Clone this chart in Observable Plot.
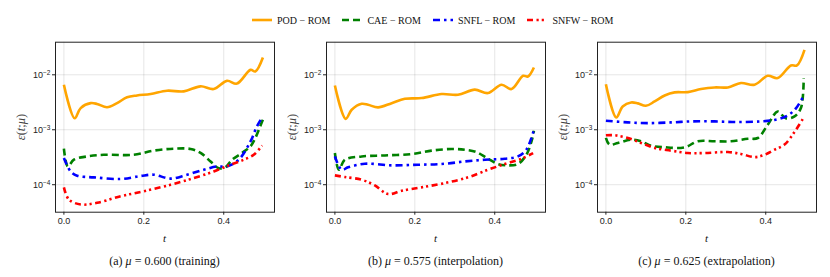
<!DOCTYPE html>
<html><head><meta charset="utf-8">
<script src="https://cdn.jsdelivr.net/npm/d3@7"></script>
<script src="https://cdn.jsdelivr.net/npm/@observablehq/plot@0.6"></script>
<style>
body{margin:0;background:#fff;}
#root{position:relative;width:830px;height:277px;overflow:hidden;font-family:"Liberation Serif",serif;color:#111;}
.panel{position:absolute;top:30px;}
.lbl{position:absolute;transform:translate(-50%,-50%);white-space:nowrap;}
#legend{position:absolute;left:252px;top:12px;display:flex;align-items:center;font-size:10px;height:16px;}
#legend .item{display:flex;align-items:center;margin-right:12px;}
#legend svg{margin-right:5px;}
</style></head><body><div id="root"><div id="legend"></div></div>
<script>
// ---- series metadata ----
const seriesNames = ["POD − ROM", "CAE − ROM", "SNFL − ROM", "SNFW − ROM"];
const seriesColors = ["#FFA500", "#008000", "#0000FF", "#FF0000"];
const seriesDash = [null, "7,4", "7,4,2.5,4", "6,3.5,2.2,3,2.2,3.5"];
const xTicks = [0, 0.2, 0.4];
const xTickLabels = ["0.0", "0.2", "0.4"];
const yTicks = [1e-2, 1e-3, 1e-4];
const yTickExponents = ["−2", "−3", "−4"];
const panelCaptions = ["(a) <i>μ</i> = 0.600 (training)", "(b) <i>μ</i> = 0.575 (interpolation)", "(c) <i>μ</i> = 0.625 (extrapolation)"];

// ---- (a) mu = 0.600 training ----
const trainPOD_t   = [0, 0.027, 0.042, 0.067, 0.083, 0.108, 0.133, 0.158, 0.183, 0.217, 0.258, 0.3, 0.342, 0.375, 0.408, 0.433, 0.467, 0.479, 0.498];
const trainPOD_err = [6.6e-3, 1.62e-3, 2.48e-3, 3.05e-3, 2.95e-3, 2.57e-3, 3.05e-3, 3.89e-3, 4.21e-3, 4.47e-3, 5.13e-3, 5.0e-3, 6.17e-3, 5.5e-3, 7.76e-3, 6.92e-3, 1.23e-2, 1.15e-2, 2.07e-2];
const trainCAE_t   = [0, 0.01, 0.025, 0.058, 0.1, 0.175, 0.225, 0.275, 0.317, 0.342, 0.367, 0.3875, 0.404, 0.421, 0.446, 0.467, 0.479, 0.496, 0.5];
const trainCAE_err = [4.52e-4, 2.15e-4, 2.85e-4, 3.27e-4, 3.5e-4, 3.5e-4, 4.17e-4, 4.52e-4, 4.47e-4, 3.8e-4, 2.65e-4, 2.0e-4, 2.07e-4, 2.85e-4, 3.8e-4, 5.0e-4, 7.08e-4, 1.41e-3, 1.66e-3];
const trainSNFL_t   = [0, 0.017, 0.033, 0.075, 0.142, 0.192, 0.225, 0.267, 0.308, 0.35, 0.383, 0.408, 0.4375, 0.467, 0.483, 0.496];
const trainSNFL_err = [3.05e-4, 1.74e-4, 1.46e-4, 1.36e-4, 1.27e-4, 1.44e-4, 1.52e-4, 1.29e-4, 1.52e-4, 1.87e-4, 2.15e-4, 2.15e-4, 2.85e-4, 6.14e-4, 1.15e-3, 1.67e-3];
const trainSNFW_t   = [0, 0.0125, 0.042, 0.083, 0.142, 0.2, 0.267, 0.325, 0.375, 0.417, 0.45, 0.475, 0.496];
const trainSNFW_err = [8.95e-5, 5.37e-5, 4.37e-5, 4.68e-5, 6.17e-5, 7.59e-5, 1.0e-4, 1.32e-4, 1.74e-4, 2.31e-4, 2.85e-4, 3.5e-4, 5.19e-4];

// ---- (b) mu = 0.575 interpolation ----
const interpPOD_t   = [0, 0.027, 0.042, 0.067, 0.083, 0.108, 0.142, 0.175, 0.217, 0.267, 0.308, 0.35, 0.383, 0.417, 0.442, 0.471, 0.483, 0.498];
const interpPOD_err = [6.4e-3, 1.58e-3, 2.31e-3, 2.97e-3, 2.85e-3, 2.55e-3, 3.05e-3, 3.66e-3, 3.77e-3, 4.47e-3, 4.33e-3, 5.37e-3, 4.65e-3, 6.6e-3, 5.5e-3, 9.6e-3, 9.3e-3, 1.36e-2];
const interpCAE_t   = [0, 0.01, 0.025, 0.067, 0.125, 0.192, 0.242, 0.292, 0.325, 0.354, 0.383, 0.408, 0.433, 0.458, 0.479, 0.492, 0.498];
const interpCAE_err = [3.77e-4, 1.87e-4, 2.85e-4, 3.27e-4, 3.41e-4, 3.61e-4, 4.17e-4, 4.47e-4, 4.33e-4, 3.93e-4, 2.97e-4, 2.38e-4, 2.25e-4, 2.38e-4, 3.5e-4, 6.14e-4, 9.6e-4];
const interpSNFL_t   = [0, 0.017, 0.033, 0.075, 0.142, 0.208, 0.267, 0.325, 0.375, 0.425, 0.458, 0.479, 0.498];
const interpSNFL_err = [3.27e-4, 1.87e-4, 2.07e-4, 2.41e-4, 2.25e-4, 2.31e-4, 2.38e-4, 2.65e-4, 2.85e-4, 2.97e-4, 3.27e-4, 4.33e-4, 1.0e-3];
const interpSNFW_t   = [0, 0.025, 0.067, 0.1, 0.133, 0.167, 0.217, 0.275, 0.333, 0.383, 0.425, 0.467, 0.496];
const interpSNFW_err = [1.48e-4, 1.38e-4, 1.23e-4, 9.7e-5, 6.76e-5, 7.76e-5, 8.95e-5, 1.07e-4, 1.36e-4, 1.87e-4, 2.38e-4, 2.97e-4, 3.77e-4];

// ---- (c) mu = 0.625 extrapolation ----
const extrapPOD_t   = [0, 0.026, 0.042, 0.063, 0.08, 0.1, 0.122, 0.147, 0.172, 0.205, 0.238, 0.272, 0.305, 0.338, 0.372, 0.405, 0.43, 0.463, 0.478, 0.497];
const extrapPOD_err = [6.76e-3, 1.67e-3, 2.65e-3, 3.14e-3, 3.02e-3, 2.73e-3, 3.27e-3, 4.21e-3, 4.79e-3, 4.84e-3, 5.5e-3, 5.89e-3, 5.89e-3, 7.08e-3, 6.6e-3, 9.6e-3, 8.71e-3, 1.48e-2, 1.48e-2, 2.85e-2];
const extrapCAE_t   = [0, 0.009, 0.03, 0.063, 0.088, 0.113, 0.147, 0.197, 0.23, 0.272, 0.313, 0.355, 0.38, 0.405, 0.43, 0.45, 0.472, 0.488, 0.495];
const extrapCAE_err = [7.08e-4, 5.37e-4, 5.75e-4, 6.6e-4, 6.17e-4, 5.13e-4, 4.79e-4, 4.79e-4, 6.17e-4, 6.17e-4, 6.17e-4, 6.86e-4, 7.08e-4, 1.23e-3, 2.15e-3, 1.62e-3, 1.75e-3, 2.48e-3, 8.71e-3];
const extrapSNFL_t   = [0, 0.055, 0.105, 0.163, 0.213, 0.272, 0.33, 0.388, 0.422, 0.455, 0.476, 0.495];
const extrapSNFL_err = [1.46e-3, 1.36e-3, 1.32e-3, 1.36e-3, 1.42e-3, 1.42e-3, 1.38e-3, 1.42e-3, 1.51e-3, 1.82e-3, 2.48e-3, 4.21e-3];
const extrapSNFW_t   = [0, 0.022, 0.055, 0.088, 0.122, 0.163, 0.205, 0.247, 0.305, 0.338, 0.372, 0.397, 0.422, 0.447, 0.472, 0.495];
const extrapSNFW_err = [7.94e-4, 7.94e-4, 7.08e-4, 5.75e-4, 4.68e-4, 4.17e-4, 3.77e-4, 3.77e-4, 3.93e-4, 3.63e-4, 3.18e-4, 3.5e-4, 4.33e-4, 5.37e-4, 9.12e-4, 1.67e-3];

const panels = [
  [[trainPOD_t, trainPOD_err], [trainCAE_t, trainCAE_err], [trainSNFL_t, trainSNFL_err], [trainSNFW_t, trainSNFW_err]],
  [[interpPOD_t, interpPOD_err], [interpCAE_t, interpCAE_err], [interpSNFL_t, interpSNFL_err], [interpSNFW_t, interpSNFW_err]],
  [[extrapPOD_t, extrapPOD_err], [extrapCAE_t, extrapCAE_err], [extrapSNFL_t, extrapSNFL_err], [extrapSNFW_t, extrapSNFW_err]]
];

const root = document.getElementById("root");

// legend
const legend = document.getElementById("legend");
seriesNames.forEach((name, i) => {
  const item = document.createElement("div");
  item.className = "item";
  const dash = seriesDash[i] ? `stroke-dasharray="${seriesDash[i]}"` : "";
  item.innerHTML = `<svg width="20" height="6"><line x1="0" y1="3" x2="20" y2="3" stroke="${seriesColors[i]}" stroke-width="2.6" ${dash}/></svg><span>${name}</span>`;
  legend.appendChild(item);
});

const panelLeft = [0, 271, 542];
const W = 275, H = 215, ML = 55, MR = 1, MT = 11.7, MB = 33.3;

panels.forEach((series, p) => {
  const marks = [
    Plot.gridX(xTicks, {stroke: "#000", strokeOpacity: 0.1, strokeWidth: 1}),
    Plot.gridY(yTicks, {stroke: "#000", strokeOpacity: 0.1, strokeWidth: 1}),
    Plot.axisX(xTicks, {tickSize: 3, tickPadding: 2.5, tickFormat: (d, i) => xTickLabels[i], label: null, stroke: "#222"}),
    Plot.axisY(yTicks, {tickSize: 3, tickPadding: 2, tickFormat: () => "10", label: null, stroke: "#222"})
  ];
  series.forEach(([ts, errs], i) => {
    const rows = ts.map((t, k) => ({t, err: errs[k]}));
    const opts = {x: "t", y: "err", stroke: seriesColors[i], strokeWidth: 2.6, curve: "catmull-rom", strokeLinecap: "butt", strokeLinejoin: "round"};
    if (seriesDash[i]) opts.strokeDasharray = seriesDash[i];
    marks.push(Plot.line(rows, opts));
  });
  marks.push(Plot.frame({stroke: "#222", strokeWidth: 1}));
  const chart = Plot.plot({
    width: W, height: H, marginLeft: ML, marginRight: MR, marginTop: MT, marginBottom: MB,
    x: {domain: [-0.021, 0.527]},
    y: {type: "log", domain: [3.16e-5, 3.92e-2]},
    style: {fontFamily: "'Liberation Sans', Arial, sans-serif", fontSize: "9px", color: "#222", background: "transparent"},
    marks
  });
  // superscript exponents on y tick labels
  chart.querySelectorAll('g[aria-label="y-axis tick label"] text').forEach((txt, k) => {
    txt.textContent = "10";
    const ts = document.createElementNS("http://www.w3.org/2000/svg", "tspan");
    ts.setAttribute("dy", "-0.45em");
    ts.setAttribute("font-size", "6.5px");
    ts.textContent = yTickExponents[k];
    txt.appendChild(ts);
  });
  chart.classList.add("panel");
  chart.style.left = panelLeft[p] + "px";
  root.appendChild(chart);

  const cx = panelLeft[p] + ML + (W - ML - MR) / 2;
  const tl = document.createElement("div");
  tl.className = "lbl";
  tl.style.cssText = `left:${cx}px;top:238px;font-size:11px;font-style:italic;`;
  tl.textContent = "t";
  root.appendChild(tl);

  const yl = document.createElement("div");
  yl.className = "lbl";
  yl.style.cssText = `left:${panelLeft[p] + 21}px;top:127px;font-size:12.5px;transform:translate(-50%,-50%) rotate(-90deg);color:#444;`;
  yl.innerHTML = "<i>ε</i>(<i>t</i>;<i>μ</i>)";
  root.appendChild(yl);

  const cap = document.createElement("div");
  cap.className = "lbl";
  cap.style.cssText = `left:${cx}px;top:261px;font-size:12px;`;
  cap.innerHTML = panelCaptions[p];
  root.appendChild(cap);
});
</script></body></html>
